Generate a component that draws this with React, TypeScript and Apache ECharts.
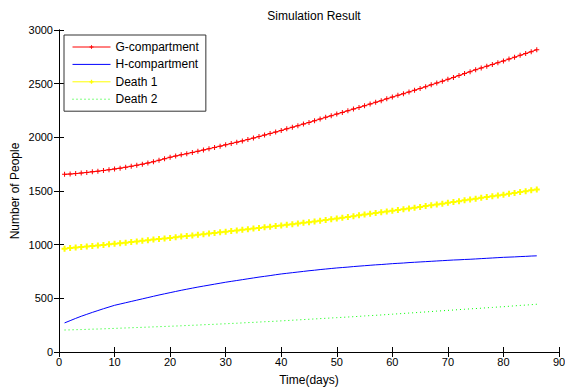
import React, { useEffect, useRef } from "react";
import * as echarts from "echarts";

const days = [
  1, 2, 3, 4, 5, 6, 7, 8, 9, 10, 11, 12, 13, 14, 15, 16, 17, 18, 19, 20,
  21, 22, 23, 24, 25, 26, 27, 28, 29, 30, 31, 32, 33, 34, 35, 36, 37, 38, 39, 40,
  41, 42, 43, 44, 45, 46, 47, 48, 49, 50, 51, 52, 53, 54, 55, 56, 57, 58, 59, 60,
  61, 62, 63, 64, 65, 66, 67, 68, 69, 70, 71, 72, 73, 74, 75, 76, 77, 78, 79, 80,
  81, 82, 83, 84, 85, 86,
];

const gCompartment = [
  1655, 1658, 1662, 1667, 1673, 1679, 1685, 1691, 1698, 1705,
  1713, 1721, 1730, 1740, 1750, 1761, 1773, 1786, 1800, 1814,
  1826, 1837, 1848, 1859, 1870, 1882, 1894, 1906, 1918, 1930,
  1942, 1955, 1967, 1980, 1993, 2007, 2021, 2035, 2049, 2064,
  2079, 2094, 2109, 2124, 2139, 2155, 2170, 2186, 2201, 2217,
  2232, 2248, 2263, 2279, 2294, 2310, 2326, 2342, 2359, 2375,
  2391, 2407, 2423, 2439, 2455, 2472, 2489, 2506, 2523, 2540,
  2558, 2576, 2594, 2612, 2630, 2646, 2663, 2679, 2696, 2712,
  2729, 2746, 2764, 2781, 2798, 2816,
];

const hCompartment = [
  271, 292, 313, 333, 351, 369, 386, 403, 419, 435,
  447, 459, 471, 483, 495, 507, 519, 531, 542, 553,
  564, 575, 585, 595, 605, 614, 623, 632, 641, 650,
  658, 666, 674, 682, 690, 698, 705, 712, 720, 727,
  733, 739, 745, 751, 757, 762, 768, 773, 778, 783,
  787, 791, 796, 800, 804, 808, 812, 815, 819, 823,
  826, 829, 833, 836, 839, 842, 845, 848, 851, 854,
  857, 859, 862, 864, 867, 870, 873, 876, 879, 882,
  884, 886, 889, 891, 894, 896,
];

const death1 = [
  963, 968, 973, 978, 983, 988, 993, 998, 1003, 1008,
  1014, 1019, 1025, 1030, 1036, 1041, 1047, 1052, 1058, 1063,
  1069, 1075, 1080, 1086, 1092, 1098, 1104, 1109, 1115, 1121,
  1127, 1133, 1138, 1144, 1150, 1156, 1162, 1167, 1173, 1179,
  1185, 1191, 1198, 1204, 1210, 1217, 1223, 1230, 1236, 1243,
  1250, 1258, 1265, 1273, 1280, 1287, 1294, 1302, 1309, 1316,
  1323, 1330, 1338, 1345, 1352, 1360, 1367, 1375, 1382, 1390,
  1398, 1405, 1413, 1420, 1428, 1436, 1443, 1451, 1458, 1466,
  1474, 1482, 1490, 1498, 1506, 1514,
];

const death2 = [
  205, 206, 208, 209, 211, 213, 214, 216, 218, 220,
  222, 224, 226, 228, 230, 232, 234, 236, 238, 240,
  242, 244, 247, 249, 251, 254, 256, 258, 261, 263,
  266, 268, 271, 274, 276, 279, 282, 284, 287, 290,
  293, 296, 299, 302, 305, 308, 311, 314, 317, 320,
  323, 326, 329, 332, 336, 339, 342, 345, 349, 352,
  356, 359, 363, 366, 370, 373, 377, 381, 384, 388,
  391, 395, 398, 402, 405, 408, 412, 415, 419, 422,
  426, 430, 434, 437, 441, 445,
];

const seriesNames = ["G-compartment", "H-compartment", "Death 1", "Death 2"];

const FONT = "'Liberation Sans', Arial, Helvetica, sans-serif";
const thinPlus = "path://M2,0H3V2H5V3H3V5H2V3H0V2H2Z";
const thickPlus = "path://M2,0H4V2H6V4H4V6H2V4H0V2H2Z";

function pairs(vals: number[]) {
  return vals.map((v, i) => [days[i], v]);
}

export default function App() {
  const ref = useRef<HTMLDivElement>(null);
  useEffect(() => {
    if (!ref.current) return;
    const chart = echarts.init(ref.current, null, { renderer: "svg" });
    const axisLine = { show: true, lineStyle: { color: "#000", width: 1 } };
    const axisTick = { show: true, inside: true, length: 5, lineStyle: { color: "#000" } };
    const labelStyle = {
      color: "#000",
      fontSize: 11,
      fontFamily: FONT,
      formatter: (v: number) => String(v),
    };
    chart.setOption({
      animation: false,
      backgroundColor: "#fff",
      title: {
        text: "Simulation Result",
        left: 309,
        top: 5,
        textAlign: "center",
        textStyle: { fontSize: 12, fontWeight: "normal", color: "#000", fontFamily: FONT },
      },
      legend: {
        orient: "vertical",
        left: 64,
        top: 35,
        padding: [5, 7, 5, 8],
        itemGap: 3.4,
        itemWidth: 38,
        itemHeight: 5,
        borderColor: "#333",
        borderWidth: 1,
        backgroundColor: "#fff",
        lineStyle: { width: 1 },
        textStyle: { fontSize: 12, color: "#000", fontFamily: FONT, lineHeight: 14 },
        data: [
          { name: seriesNames[0] },
          { name: seriesNames[1], itemStyle: { opacity: 0 } },
          { name: seriesNames[2] },
          { name: seriesNames[3], itemStyle: { opacity: 0 } },
        ],
      },
      grid: { left: 59, right: 6, top: 30, bottom: 35, show: false, outerBoundsMode: "none", containLabel: false },
      xAxis: [
        {
          type: "value",
          min: 0,
          max: 90,
          interval: 10,
          name: "Time(days)",
          nameLocation: "middle",
          nameGap: 22,
          nameMoveOverlap: false,
          nameTextStyle: { fontSize: 12, color: "#000", fontFamily: FONT },
          axisLine,
          axisTick,
          axisLabel: { ...labelStyle, margin: 4 },
          splitLine: { show: false },
        },
        {
          type: "value",
          position: "top",
          min: 0,
          max: 90,
          interval: 10,
          axisLine,
          axisTick,
          axisLabel: { show: false },
          splitLine: { show: false },
        },
      ],
      yAxis: [
        {
          type: "value",
          min: 0,
          max: 3000,
          interval: 500,
          name: "Number of People",
          nameLocation: "middle",
          nameGap: 38,
          nameMoveOverlap: false,
          nameTextStyle: { fontSize: 12, color: "#000", fontFamily: FONT },
          axisLine,
          axisTick,
          axisLabel: { ...labelStyle, margin: 6 },
          splitLine: { show: false },
        },
        {
          type: "value",
          position: "right",
          min: 0,
          max: 3000,
          interval: 500,
          axisLine,
          axisTick,
          axisLabel: { show: false },
          splitLine: { show: false },
        },
      ],
      series: [
        {
          name: seriesNames[0],
          type: "line",
          data: pairs(gCompartment),
          symbol: thinPlus,
          symbolSize: 5,
          showSymbol: true,
          itemStyle: { color: "#ff0000", borderWidth: 0 },
          lineStyle: { color: "#ff0000", width: 1 },
        },
        {
          name: seriesNames[1],
          type: "line",
          data: pairs(hCompartment),
          symbol: "none",
          itemStyle: { color: "#0000ff" },
          lineStyle: { color: "#0000ff", width: 1 },
        },
        {
          name: seriesNames[2],
          type: "line",
          data: pairs(death1),
          symbol: thickPlus,
          symbolSize: 6,
          showSymbol: true,
          itemStyle: { color: "#ffff00", borderWidth: 0 },
          lineStyle: { color: "#ffff00", width: 1 },
        },
        {
          name: seriesNames[3],
          type: "line",
          data: pairs(death2),
          symbol: "none",
          itemStyle: { color: "#00ff00" },
          lineStyle: { color: "#00ff00", width: 1, type: [1, 3] },
        },
      ],
    });
    return () => chart.dispose();
  }, []);
  return <div ref={ref} style={{ width: 565, height: 387, position: "absolute", left: 0, top: 0 }} />;
}
